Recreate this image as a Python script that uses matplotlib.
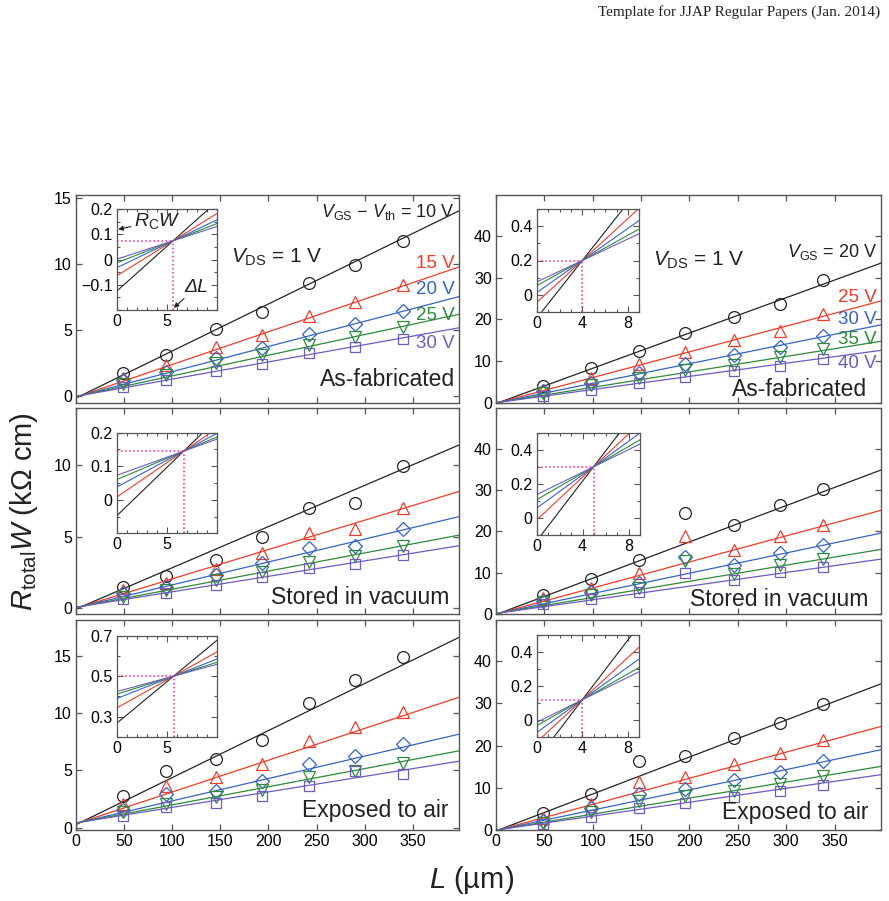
"""
R_total W vs channel length L (TLM), three storage conditions x two gate biases
"""
import numpy as np
import matplotlib
matplotlib.use('Agg')
import matplotlib.pyplot as plt
from matplotlib.ticker import MultipleLocator, FixedLocator, FuncFormatter

plt.rcParams['font.family'] = ['Liberation Sans', 'DejaVu Sans']
plt.rcParams['mathtext.fontset'] = 'custom'
plt.rcParams['mathtext.rm'] = 'Liberation Sans'
plt.rcParams['mathtext.it'] = 'Liberation Sans:italic'
plt.rcParams['mathtext.bf'] = 'Liberation Sans:bold'

# channel lengths (um)
L_left = [49, 94, 145, 193, 242, 290, 340]
L_right = [49, 98, 148, 195, 246, 294, 338]

# gate labels
vg_labels_left = [r'$V_{\rm GS}$ − $V_{\rm th}$ = 10 V', '15 V', '20 V', '25 V', '30 V']
vg_labels_right = [r'$V_{\rm GS}$ = 20 V', '25 V', '30 V', '35 V', '40 V']
cond_labels = ['As-fabricated', 'Stored in vacuum', 'Exposed to air']

# R_total W (kOhm cm), one row per gate voltage
fab_left = [[1.78, 3.09, 5.05, 6.35, 8.55, 9.9, 11.75],
            [1.4, 2.35, 3.7, 4.65, 6.1, 7.1, 8.4],
            [1.2, 1.85, 2.9, 3.65, 4.7, 5.5, 6.45],
            [0.95, 1.65, 2.5, 3.15, 3.85, 4.45, 5.2],
            [0.7, 1.2, 1.95, 2.45, 3.25, 3.7, 4.35]]
fab_right = [[4.0, 8.4, 12.4, 16.8, 20.7, 23.7, 29.4],
             [3.2, 6.0, 9.4, 12.2, 15.1, 17.2, 21.2],
             [2.8, 4.8, 7.1, 9.4, 11.5, 13.5, 16.0],
             [2.4, 4.25, 6.0, 7.9, 9.0, 11.1, 13.0],
             [1.6, 3.2, 4.8, 6.2, 7.6, 8.8, 10.6]]
vac_left = [[1.51, 2.26, 3.37, 5.0, 7.02, 7.33, 9.95],
            [1.28, 1.74, 2.74, 3.88, 5.23, 5.51, 7.02],
            [1.05, 1.51, 2.33, 3.14, 4.19, 4.35, 5.51],
            [0.81, 1.28, 1.98, 2.56, 3.26, 3.65, 4.37],
            [0.65, 1.05, 1.63, 2.21, 2.84, 3.07, 3.72]]
vac_right = [[4.67, 8.45, 13.0, 24.5, 21.5, 26.3, 30.2],
             [3.86, 6.4, 9.9, 18.9, 15.4, 18.9, 21.5],
             [3.2, 5.4, 7.6, 13.8, 11.9, 14.7, 16.6],
             [2.8, 4.7, 6.4, 12.9, 9.65, 11.9, 13.4],
             [2.4, 3.6, 5.2, 9.9, 8.2, 10.1, 11.3]]
air_left = [[2.74, 4.96, 6.03, 7.64, 10.85, 12.83, 14.84],
            [2.1, 3.64, 4.43, 5.54, 7.55, 8.75, 10.1],
            [1.57, 2.97, 3.18, 4.05, 5.54, 6.27, 7.26],
            [1.37, 2.1, 2.68, 3.27, 4.43, 4.93, 5.6],
            [1.02, 1.81, 2.19, 2.74, 3.64, 4.93, 4.64]]
air_right = [[4.0, 8.6, 16.25, 17.5, 21.7, 25.3, 29.9],
             [2.8, 6.2, 11.3, 12.6, 15.7, 18.3, 21.3],
             [2.2, 5.1, 8.6, 9.65, 11.9, 13.8, 16.3],
             [1.6, 4.2, 6.8, 8.0, 9.25, 11.0, 12.9],
             [1.4, 3.05, 5.2, 6.3, 7.8, 9.25, 10.7]]

# linear fits: R W = RcW + slope * (L - dL)
fab_left_slope = [0.0355, 0.0247, 0.0190, 0.0156, 0.0130]
fab_right_slope = [0.0845, 0.0615, 0.047, 0.037, 0.0315]
vac_left_slope = [0.0288, 0.0205, 0.016, 0.0127, 0.0108]
vac_right_slope = [0.0878, 0.063, 0.049, 0.039, 0.033]
air_left_slope = [0.041, 0.0277, 0.0195, 0.0158, 0.0135]
air_right_slope = [0.0877, 0.062, 0.048, 0.038, 0.033]
dL_um = [5.64, 4.0, 6.7, 4.95, 5.7, 4.0]
RcW = [0.075, 0.2, 0.145, 0.3, 0.5, 0.12]

colors = ['#222222', '#f03c28', '#3563c4', '#2d8a3a', '#6d5bbf']
markers = ['o', '^', 'D', 'v', 's']
msizes = [8.5, 8.5, 6.8, 8.5, 6.8]

W, H = 889, 901
fig = plt.figure(figsize=(W / 100, H / 100), dpi=100)


def px_rect(x0, y0, x1, y1):
    return [x0 / W, 1 - y1 / H, (x1 - x0) / W, (y1 - y0) / H]


def ftext(x, y, s, **kw):
    fig.text(x / W, 1 - y / H, s, **kw)


fmt = FuncFormatter(lambda v, p: f'{v:g}'.replace('-', '\u2212'))
spine_c = '#555555'

rows = [(195, 403), (408, 614), (620, 830)]
cols = [(76, 459), (496, 881)]
datasets = [fab_left, fab_right, vac_left, vac_right, air_left, air_right]
slopes = [fab_left_slope, fab_right_slope, vac_left_slope, vac_right_slope,
          air_left_slope, air_right_slope]
ylims = [(-0.5, 15.2), (0, 49.8), (-0.4, 14), (0, 49.8), (-0.2, 18.1), (0, 49.8)]
yticks = [[0, 5, 10, 15], [0, 10, 20, 30, 40], [0, 5, 10], [0, 10, 20, 30, 40],
          [0, 5, 10, 15], [0, 10, 20, 30, 40]]

# inset boxes (pixels) and ranges
inset_box = [(116.7, 209.3, 216.7, 310), (536.7, 209.3, 639.3, 311.7),
             (116.7, 432.7, 216.7, 533.3), (536.7, 432.7, 640, 535),
             (116.7, 635.7, 216.7, 736.7), (536.7, 635, 639.3, 737.3)]
inset_ylim = [(-0.2, 0.2), (-0.1, 0.5), (-0.1, 0.2), (-0.1, 0.5), (0.2, 0.7), (-0.1, 0.5)]
inset_yticks = [[-0.1, 0, 0.1, 0.2], [0, 0.2, 0.4], [0, 0.1, 0.2], [0, 0.2, 0.4],
                [0.3, 0.5, 0.7], [0, 0.2, 0.4]]
inset_yminor = [0.05, 0.1, 0.05, 0.1, 0.1, 0.1]
label_pos = [(455, 380), (867, 389), (449, 597), (868, 600), (448, 810), (869, 813)]

insets = []
for i, data in enumerate(datasets):
    r, c = divmod(i, 2)
    x0, x1 = cols[c]
    y0, y1 = rows[r]
    ax = fig.add_axes(px_rect(x0, y0, x1, y1))
    L = L_left if c == 0 else L_right
    Lfit = np.array([0, 400])
    for k in range(5):
        ax.plot(Lfit, RcW[i] + slopes[i][k] * (Lfit - dL_um[i]), color=colors[k], lw=0.9)
        ax.plot(L, data[k], ls='none', marker=markers[k], ms=msizes[k], mfc='none',
                mec=colors[k], mew=0.9)
    ax.set_xlim(0, 398)
    ax.set_ylim(*ylims[i])
    ax.xaxis.set_major_locator(MultipleLocator(50))
    ax.yaxis.set_major_locator(FixedLocator(yticks[i]))
    ax.tick_params(direction='in', top=True, right=True, length=4.5, width=0.9,
                   color=spine_c, labelsize=11.5, pad=3)
    for sp in ax.spines.values():
        sp.set_color(spine_c)
        sp.set_linewidth(1.0)
    if r < 2:
        ax.set_xticklabels([])
    ftext(label_pos[i][0], label_pos[i][1], cond_labels[r], ha='right', va='center',
          fontsize=16.5, color='#222222')

    # inset
    bx0, by0, bx1, by1 = inset_box[i]
    ins = fig.add_axes(px_rect(bx0, by0, bx1, by1))
    insets.append(ins)
    xmax = 10 if c == 0 else 9
    Li = np.array([0, xmax])
    for k in range(5):
        ins.plot(Li, RcW[i] + slopes[i][k] * (Li - dL_um[i]), color=colors[k], lw=0.8)
    yl = inset_ylim[i]
    ins.plot([0, dL_um[i]], [RcW[i], RcW[i]], color='#ee2299', ls=':', lw=1.1)
    ins.plot([dL_um[i], dL_um[i]], [yl[0], RcW[i]], color='#ee2299', ls=':', lw=1.1)
    ins.set_xlim(0, xmax)
    ins.set_ylim(*yl)
    ins.set_xticks([0, 5] if c == 0 else [0, 4, 8])
    ins.set_yticks(inset_yticks[i])
    ins.xaxis.set_minor_locator(MultipleLocator(1))
    ins.yaxis.set_minor_locator(MultipleLocator(inset_yminor[i]))
    ins.xaxis.set_major_formatter(fmt)
    ins.yaxis.set_major_formatter(fmt)
    ins.tick_params(which='both', direction='in', top=True, right=True, color=spine_c,
                    width=0.8, labelsize=11.5, pad=3)
    ins.tick_params(which='major', length=4)
    ins.tick_params(which='minor', length=2.5)
    for sp in ins.spines.values():
        sp.set_color(spine_c)
        sp.set_linewidth(0.9)

# bias annotations, top row
ftext(455, 212, vg_labels_left[0], ha='right', va='center', fontsize=13, color=colors[0])
for k, yy in zip(range(1, 5), [264, 290, 316, 344]):
    ftext(455, yy, vg_labels_left[k], ha='right', va='center', fontsize=13.5, color=colors[k])
ftext(877, 252, vg_labels_right[0], ha='right', va='center', fontsize=13, color=colors[0])
for k, yy in zip(range(1, 5), [297, 320, 340, 363]):
    ftext(877, yy, vg_labels_right[k], ha='right', va='center', fontsize=13.5, color=colors[k])
ftext(231, 257, r'$V_{\rm DS}$ = 1 V', ha='left', va='center', fontsize=15, color='#222222')
ftext(653, 260, r'$V_{\rm DS}$ = 1 V', ha='left', va='center', fontsize=15, color='#222222')

# R_C W and delta L markers in first inset
ax0 = insets[0]
ax0.annotate(r'$R_{\rm C}W$', xy=(0.15, 0.12), xytext=(1.7, 0.155), fontsize=14,
             va='center', ha='left', color='#222222',
             arrowprops=dict(arrowstyle='-|>', color='#222222', lw=0.8,
                             mutation_scale=7, shrinkA=0, shrinkB=0))
ax0.annotate('ΔL', xy=(5.6, -0.195), xytext=(6.8, -0.11), fontsize=14, style='italic',
             va='center', ha='left', color='#222222', annotation_clip=False,
             arrowprops=dict(arrowstyle='-|>', color='#222222', lw=0.8,
                             mutation_scale=7, shrinkA=0, shrinkB=1))

# axis titles
ftext(24, 512, r'$R_{\rm total}W$ (kΩ cm)', rotation=90, ha='center', va='center',
      fontsize=21, color='#222222')
ftext(472, 880, r'$L$ (µm)', ha='center', va='center', fontsize=21, color='#222222')
ftext(880, 12, 'Template for JJAP Regular Papers (Jan. 2014)', ha='right', va='center',
      fontsize=11, family='Liberation Serif', color='#222222')

fig.savefig('out.png', dpi=100)
